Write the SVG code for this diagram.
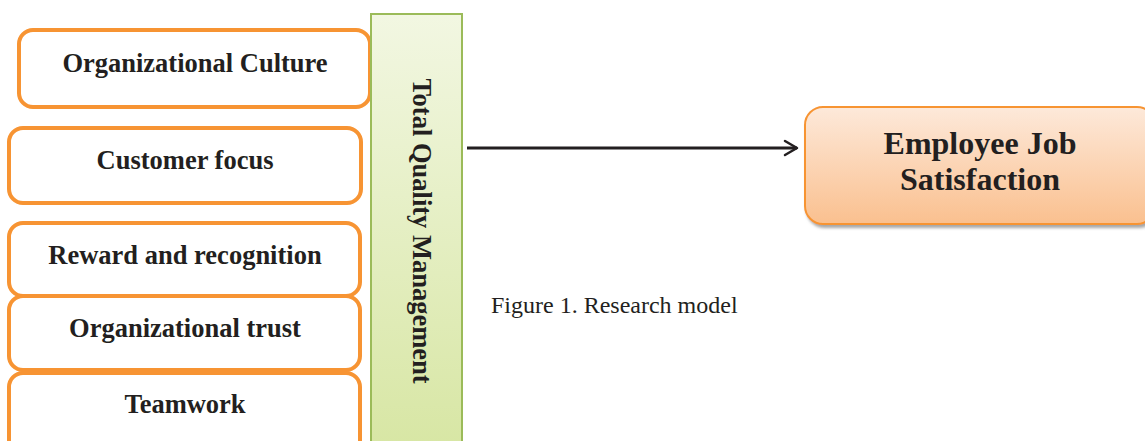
<svg xmlns="http://www.w3.org/2000/svg" width="1145" height="441" viewBox="0 0 1145 441">
<style>
.box{fill:#fff;stroke:#F79433;stroke-width:4}
.lbl{font-family:"Liberation Serif",serif;font-weight:bold;font-size:26.5px;fill:#231f20;text-anchor:middle}
.cap{font-family:"Liberation Serif",serif;font-size:24px;fill:#231f20}
</style>
<defs>
<linearGradient id="gg" x1="0" y1="0" x2="0" y2="1"><stop offset="0" stop-color="#F2F7E2"/><stop offset="1" stop-color="#D7E6A3"/></linearGradient>
<linearGradient id="og" x1="0" y1="0" x2="0" y2="1"><stop offset="0" stop-color="#FDE9DA"/><stop offset="1" stop-color="#FAC08F"/></linearGradient>
<filter id="sh" x="-10%" y="-10%" width="130%" height="140%"><feDropShadow dx="2" dy="3" stdDeviation="1.5" flood-color="#808080" flood-opacity="0.7"/></filter>
<marker id="ah" markerWidth="20" markerHeight="20" refX="16" refY="10" orient="auto" markerUnits="userSpaceOnUse"><path d="M4,3 L16,10 L4,17" fill="none" stroke="#231f20" stroke-width="2.5" stroke-linecap="round" stroke-linejoin="round"/></marker>
</defs>
<g id="n1"><rect class="box" x="19" y="30" width="351" height="77" rx="14"/><text class="lbl" x="195" y="72">Organizational Culture</text></g>
<g id="n2"><rect class="box" x="9" y="128" width="352" height="75" rx="14"/><text class="lbl" x="185" y="169">Customer focus</text></g>
<g id="n3"><rect class="box" x="9" y="223" width="351" height="73" rx="14"/><text class="lbl" x="185" y="264">Reward and recognition</text></g>
<g id="n4"><rect class="box" x="9" y="296" width="351" height="74" rx="14"/><text class="lbl" x="185" y="337">Organizational trust</text></g>
<g id="n5"><rect class="box" x="9" y="373" width="351" height="90" rx="14"/><text class="lbl" x="185" y="413">Teamwork</text></g>
<g id="tqm"><rect x="371" y="14" width="91" height="440" fill="url(#gg)" stroke="#9BBB59" stroke-width="2"/><text class="lbl" transform="translate(413,231) rotate(90)" x="0" y="0">Total Quality Management</text></g>
<g id="ejs"><rect x="805" y="107" width="350" height="117" rx="18" fill="url(#og)" stroke="#F79433" stroke-width="2" filter="url(#sh)"/><text class="lbl" style="font-size:32px" x="980" y="154">Employee Job</text><text class="lbl" style="font-size:32px" x="980" y="190">Satisfaction</text></g>
<g id="connectors"><line x1="467" y1="148" x2="797" y2="148" stroke="#231f20" stroke-width="3" marker-end="url(#ah)"/></g>
<text class="cap" x="491" y="313">Figure 1. Research model</text>
</svg>
